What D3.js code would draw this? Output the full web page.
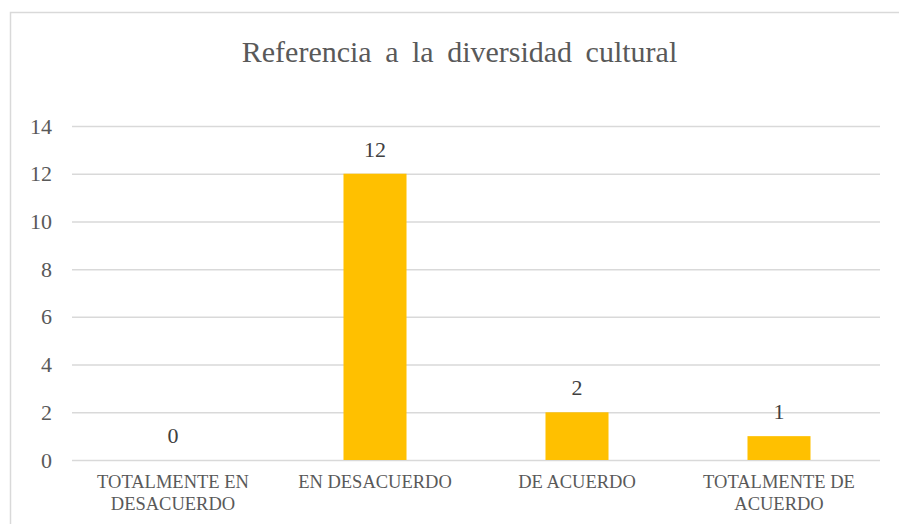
<!DOCTYPE html>
<html><head><meta charset="utf-8">
<script src="https://cdn.jsdelivr.net/npm/d3@7"></script>
<style>body{margin:0;background:#fff}svg{display:block}</style>
</head><body>
<svg id="c" width="899" height="524"></svg>
<script>
const categories = [["TOTALMENTE EN","DESACUERDO"],["EN DESACUERDO"],["DE ACUERDO"],["TOTALMENTE DE","ACUERDO"]];
const values = [0, 12, 2, 1];
const yTicks = [0, 2, 4, 6, 8, 10, 12, 14];
const title = "Referencia a la diversidad cultural";

const svg = d3.select("#c");
const font = "'Liberation Serif','Times New Roman',serif";
const W = 899, H = 524;
const m = {l:72, r:19, t:126, b:64};

svg.append("rect").attr("x",10.5).attr("y",12.5).attr("width",W+10).attr("height",H+10)
  .attr("fill","#fff").attr("stroke","#d9d9d9").attr("stroke-width",1.5);

const keys = categories.map(c=>c.join(" "));
const x = d3.scaleBand().domain(keys).range([m.l, W-m.r]).paddingInner(0.688).paddingOuter(0.344);
const y = d3.scaleLinear().domain([0,14]).range([H-m.b, m.t]);

const ya = svg.append("g").attr("transform",`translate(${m.l},0)`)
  .call(d3.axisLeft(y).tickValues(yTicks).tickSize(-(W-m.r-m.l)).tickPadding(20));
ya.select(".domain").remove();
ya.selectAll("line").attr("stroke","#d9d9d9").attr("stroke-width",1.5);
ya.selectAll("text").attr("fill","#595959").style("font-family",font).style("font-size","22px");

svg.append("g").selectAll("rect").data(values).join("rect")
  .attr("x",(d,i)=>x(keys[i])).attr("width",x.bandwidth())
  .attr("y",d=>y(d)).attr("height",d=>y(0)-y(d)).attr("fill","#ffc000");

svg.append("g").selectAll("text").data(values).join("text")
  .attr("x",(d,i)=>x(keys[i])+x.bandwidth()/2).attr("y",d=>y(d)-17)
  .attr("text-anchor","middle").attr("fill","#404040")
  .style("font-family",font).style("font-size","22px").text(d=>d);

const xa = svg.append("g");
categories.forEach((c,i)=>{
  const t = xa.append("text").attr("x",x(keys[i])+x.bandwidth()/2).attr("y",H-m.b+28)
    .attr("text-anchor","middle").attr("fill","#595959")
    .style("font-family",font).style("font-size","18.5px");
  c.forEach((s,j)=>t.append("tspan").attr("x",x(keys[i])+x.bandwidth()/2).attr("dy",j?22:0).text(s));
});

svg.append("text").attr("x",459.5).attr("y",62).attr("text-anchor","middle")
  .attr("fill","#595959").style("font-family",font).style("font-size","30px")
  .style("word-spacing","6px").text(title);
</script>
</body></html>
